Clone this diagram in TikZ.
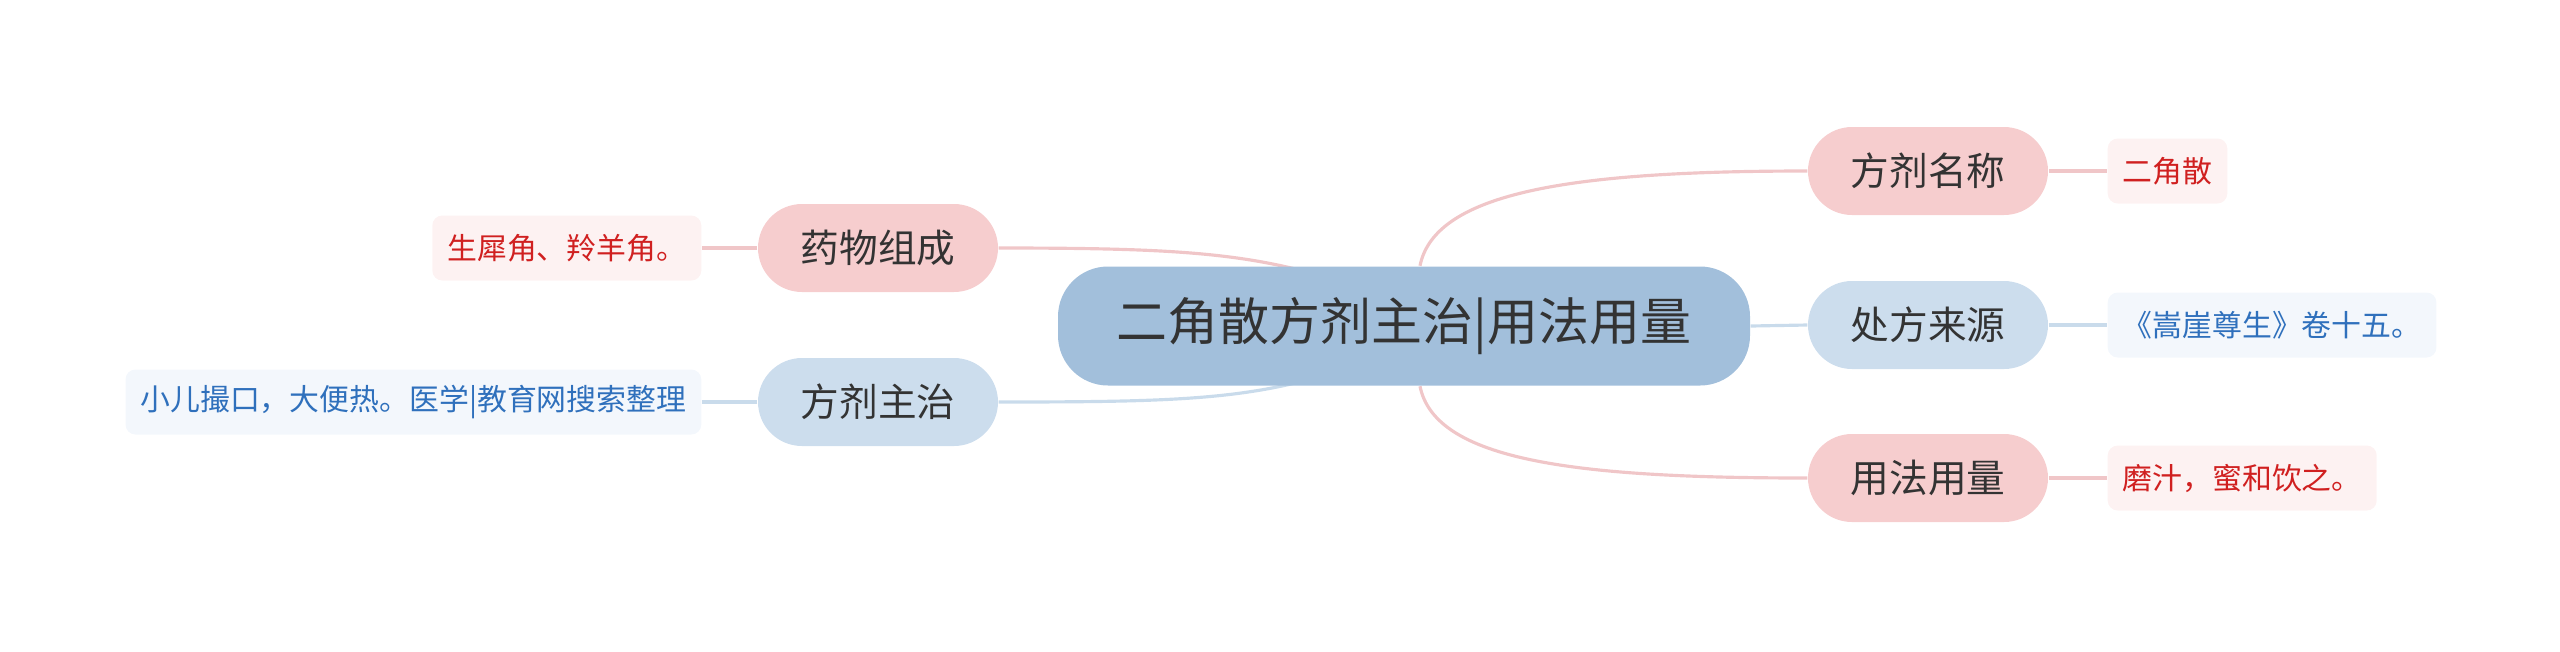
\documentclass[tikz,border=0pt]{standalone}
\usepackage{fontspec}
\setmainfont{Noto Sans CJK SC}
\usetikzlibrary{calc}
\usetikzlibrary{backgrounds}
\definecolor{rootfill}{HTML}{A2BFDB}
\definecolor{pinkfill}{HTML}{F6CDCE}
\definecolor{bluefill}{HTML}{CCDDED}
\definecolor{pinkleaf}{HTML}{FDF2F2}
\definecolor{blueleaf}{HTML}{F3F7FC}
\definecolor{pinkline}{HTML}{F0C6C8}
\definecolor{blueline}{HTML}{C9DBEB}
\definecolor{redtext}{HTML}{D02020}
\definecolor{bluetext}{HTML}{2F70BC}
\definecolor{darktext}{HTML}{333333}
\tikzset{
	root/.style={fill=rootfill, text=darktext, rounded corners=0.5cm, minimum width=6.92cm, minimum height=1.19cm, font=\fontsize{14.5pt}{16pt}\selectfont},
	topic/.style={text=darktext, rounded corners=0.44cm, minimum width=2.40cm, minimum height=0.88cm, font=\fontsize{11pt}{13pt}\selectfont},
	leaf/.style={rounded corners=0.1cm, minimum height=0.65cm, inner xsep=0.15cm, font=\fontsize{8.5pt}{10pt}\selectfont},
	pinkcon/.style={draw=pinkline, line width=0.9pt},
	bluecon/.style={draw=blueline, line width=0.9pt}
}

\begin{document}
\begin{tikzpicture}
	\useasboundingbox (0,0) rectangle (25.6,6.51);

	\node[root] (root) at (14.04,3.25) {二角散方剂主治|用法用量};

	\node[topic, fill=pinkfill] (ming) at (19.28,4.80) {方剂名称};
	\node[topic, fill=bluefill] (laiyuan) at (19.28,3.26) {处方来源};
	\node[topic, fill=pinkfill] (yongfa) at (19.28,1.73) {用法用量};
	\node[topic, fill=pinkfill] (zucheng) at (8.78,4.03) {药物组成};
	\node[topic, fill=bluefill] (zhuzhi) at (8.78,2.49) {方剂主治};

	\node[leaf, fill=pinkleaf, text=redtext, anchor=west] (mingleaf) at (21.07,4.80) {二角散};
	\node[leaf, fill=blueleaf, text=bluetext, anchor=west] (laiyuanleaf) at (21.07,3.26) {《嵩崖尊生》卷十五。};
	\node[leaf, fill=pinkleaf, text=redtext, anchor=west] (yongfaleaf) at (21.07,1.73) {磨汁，蜜和饮之。};
	\node[leaf, fill=pinkleaf, text=redtext, anchor=east] (zuchengleaf) at (7.02,4.03) {生犀角、羚羊角。};
	\node[leaf, fill=blueleaf, text=bluetext, anchor=east] (zhuzhileaf) at (7.02,2.49) {小儿撮口，大便热。医学|教育网搜索整理};

	\begin{scope}[on background layer]
		\draw[pinkcon] ($(root.north)+(0.16,0)$) .. controls +(0.15,0.75) and +(-2.3,0) .. (ming.west);
		\draw[bluecon] (root.east) -- (laiyuan.west);
		\draw[pinkcon] ($(root.south)+(0.16,0)$) .. controls +(0.15,-0.75) and +(-2.3,0) .. (yongfa.west);
		\draw[pinkcon] (zucheng.east) .. controls +(1.6,0) and +(-0.8,0.22) .. ($(root.north)+(-0.9,-0.08)$);
		\draw[bluecon] (zhuzhi.east) .. controls +(1.6,0) and +(-0.8,-0.22) .. ($(root.south)+(-0.9,0.08)$);
	\end{scope}

	\draw[pinkcon] (ming.east) -- (mingleaf.west);
	\draw[bluecon] (laiyuan.east) -- (laiyuanleaf.west);
	\draw[pinkcon] (yongfa.east) -- (yongfaleaf.west);
	\draw[pinkcon] (zucheng.west) -- (zuchengleaf.east);
	\draw[bluecon] (zhuzhi.west) -- (zhuzhileaf.east);

\end{tikzpicture}
\end{document}
